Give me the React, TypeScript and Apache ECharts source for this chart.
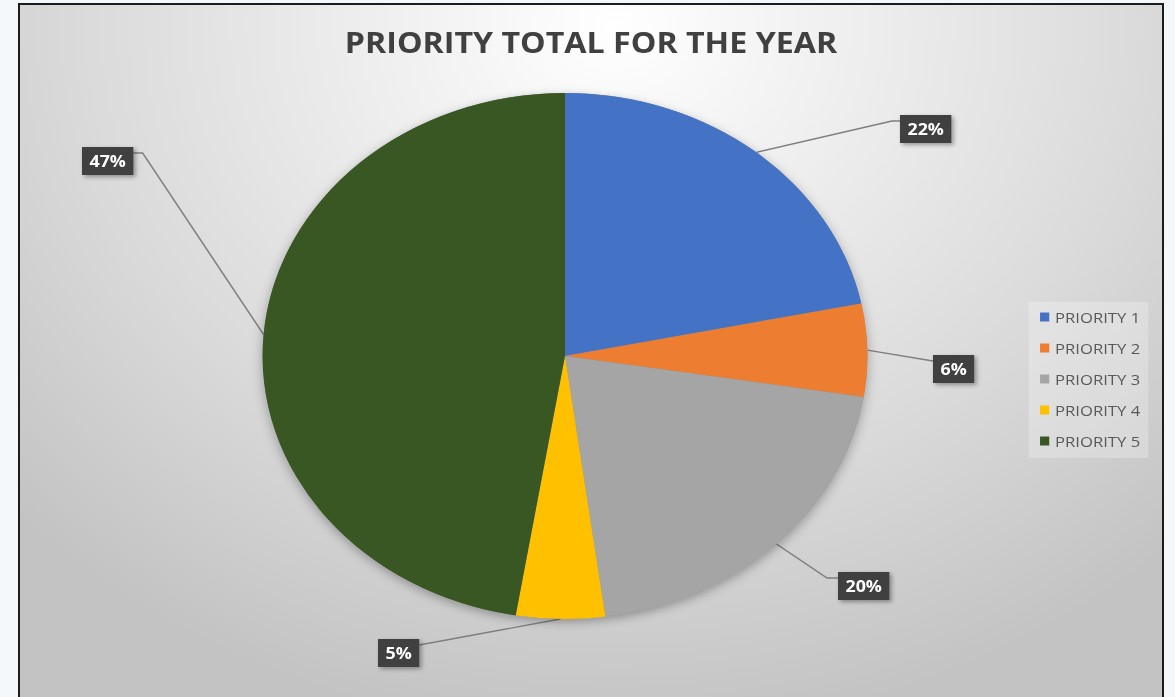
import React, { useEffect, useRef } from "react";
import * as echarts from "echarts";

// ---- data ----
const titleText = "PRIORITY TOTAL FOR THE YEAR";
const categories = ["PRIORITY 1", "PRIORITY 2", "PRIORITY 3", "PRIORITY 4", "PRIORITY 5"];
const counts = [46, 12, 43, 10, 100];
const sliceColors = ["#4472C4", "#ED7D31", "#A5A5A5", "#FFC000", "#385723"];

// ---- layout (chart px, before the horizontal stretch) ----
const STRETCH = 1.15;
const CHART_W = 993;
const CHART_H = 700;
const PIE_CX = 473.9;
const PIE_CY = 351;
const PIE_R = 263;
// label box top-left relative to the pie centre
const labelBoxOffsets = [
  [291.3, -241],
  [320, -1],
  [237.4, 216],
  [-162.6, 283],
  [-420, -209],
];
const labelAttachRight = [false, false, false, true, true];
const labelElbow = [7, 0, 9.5, 0, 8];

const total = counts.reduce((a, b) => a + b, 0);

function edgePoint(i: number): number[] {
  let before = 0;
  for (let j = 0; j < i; j++) before += counts[j];
  const mid = (before + counts[i] / 2) / total;
  const theta = Math.PI / 2 - mid * Math.PI * 2;
  return [PIE_CX + PIE_R * Math.cos(theta), PIE_CY - PIE_R * Math.sin(theta)];
}

const option: any = {
  animation: false,
  backgroundColor: "transparent",
  title: {
    text: titleText,
    left: "center",
    top: 18,
    textStyle: {
      fontFamily: '"Open Sans"',
      fontWeight: "bold",
      fontSize: 28,
      color: "#404040",
    },
  },
  legend: {
    data: categories,
    orient: "vertical",
    left: 877,
    top: 297,
    icon: "rect",
    itemWidth: 8,
    itemHeight: 9,
    itemGap: 15,
    padding: [7, 7, 9, 10],
    backgroundColor: "rgba(255,255,255,0.25)",
    selectedMode: false,
    textStyle: {
      fontFamily: '"Open Sans"',
      fontSize: 14.5,
      lineHeight: 16,
      color: "#595959",
    },
  },
  series: [
    {
      type: "pie",
      silent: true,
      center: [PIE_CX, PIE_CY],
      radius: PIE_R,
      data: [{ value: 1, name: "shadow" }],
      itemStyle: {
        color: "#8a8a8a",
        shadowBlur: 10,
        shadowOffsetY: 3,
        shadowColor: "rgba(0,0,0,0.3)",
      },
      label: { show: false },
      labelLine: { show: false },
    },
    {
      type: "pie",
      center: [PIE_CX, PIE_CY],
      radius: PIE_R,
      startAngle: 90,
      clockwise: true,
      avoidLabelOverlap: false,
      data: categories.map((name, i) => ({
        name,
        value: counts[i],
        itemStyle: { color: sliceColors[i] },
      })),
      itemStyle: { borderWidth: 0 },
      label: {
        show: true,
        position: "outside",
        formatter: (p: any) => Math.round(p.percent) + "%",
        fontFamily: '"Open Sans"',
        fontWeight: "bold",
        fontSize: 15.5,
        lineHeight: 18,
        color: "#ffffff",
        backgroundColor: "#404040",
        padding: [5, 6.5, 5, 6.5],
        shadowBlur: 4,
        shadowOffsetX: 2,
        shadowOffsetY: 2,
        shadowColor: "rgba(0,0,0,0.35)",
      },
      labelLine: {
        show: true,
        length: 10,
        length2: 10,
        smooth: false,
        lineStyle: { color: "#7f7f7f", width: 1.4 },
      },
      labelLayout: (p: any) => {
        const i = p.dataIndex;
        const bx = PIE_CX + labelBoxOffsets[i][0];
        const by = PIE_CY + labelBoxOffsets[i][1];
        const w = p.labelRect ? p.labelRect.width : 40;
        const right = labelAttachRight[i];
        const ax = right ? bx + w : bx;
        const ay = by + 6;
        const ex = right ? ax + labelElbow[i] : ax - labelElbow[i];
        return {
          x: bx,
          y: by,
          align: "left",
          verticalAlign: "top",
          labelLinePoints: [edgePoint(i), [ex, ay], [ax, ay]],
        };
      },
      emphasis: { disabled: true },
    },
  ],
};

export default function App() {
  const ref = useRef<HTMLDivElement>(null);
  useEffect(() => {
    const chart = echarts.init(ref.current!, null, { renderer: "svg" });
    chart.setOption(option);
    return () => chart.dispose();
  }, []);
  return (
    <div style={{ position: "fixed", inset: 0, background: "#f4f8fb", overflow: "hidden" }}>
      <div
        style={{
          position: "absolute",
          left: 18,
          top: 3,
          width: 1142,
          height: 710,
          border: "2px solid #1c1c1c",
          overflow: "hidden",
          background:
            "radial-gradient(ellipse 72% 100% at 52% 3%, #ffffff 0%, #eeeeee 30%, #dadada 65%, #c3c3c3 100%)",
        }}
      >
        <div
          ref={ref}
          style={{
            position: "absolute",
            left: 0,
            top: 0,
            width: CHART_W,
            height: CHART_H,
            transform: `scaleX(${STRETCH})`,
            transformOrigin: "0 0",
          }}
        />
      </div>
    </div>
  );
}
